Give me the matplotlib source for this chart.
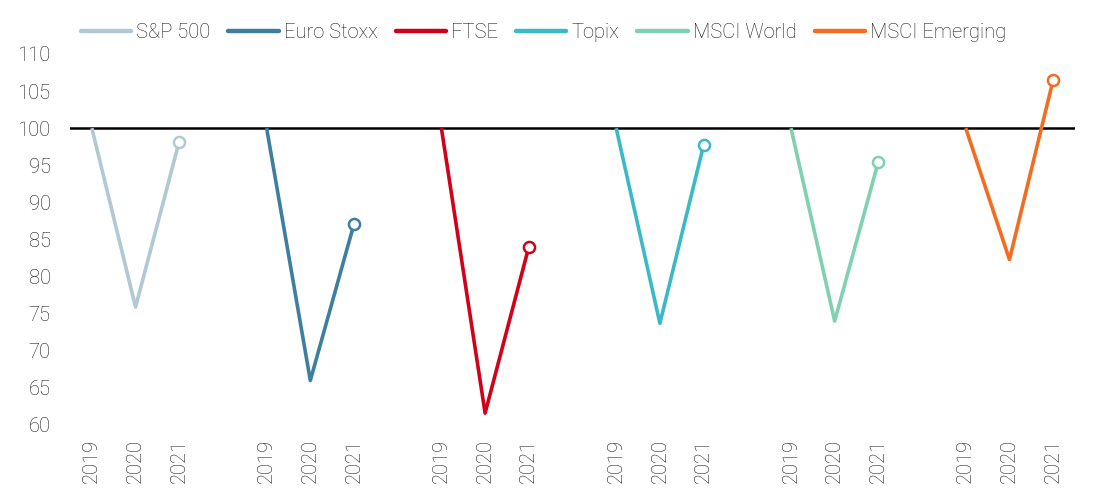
import matplotlib.pyplot as plt
from matplotlib.lines import Line2D

plt.rcParams['font.family'] = ['Roboto', 'DejaVu Sans']
plt.rcParams['font.weight'] = 'light'

years = ['2019', '2020', '2021']
indices = ['S&P 500', 'Euro Stoxx', 'FTSE', 'Topix', 'MSCI World', 'MSCI Emerging']
colors = ['#b1c9d3', '#3e7fa0', '#d0021b', '#3cb9c9', '#80d1b2', '#f26d22']

sp500 = [100, 75.9, 98.2]
eurostoxx = [100, 66.0, 87.1]
ftse = [100, 61.6, 84.0]
topix = [100, 73.7, 97.7]
msci_world = [100, 74.0, 95.5]
msci_em = [100, 82.3, 106.5]
series = [sp500, eurostoxx, ftse, topix, msci_world, msci_em]

fig = plt.figure(figsize=(11, 5.01), dpi=100)
ax = fig.add_axes([70/1100, 1-425/501, 1005/1100, 371/501])

ticks = []
labels = []
handles = []
for g, (vals, col, name) in enumerate(zip(series, colors, indices)):
    xs = [g*4 + j for j in range(len(vals))]
    ax.plot(xs, vals, color=col, linewidth=2.6, solid_capstyle='butt', zorder=3)
    ax.plot(xs[-1], vals[-1], marker='o', markersize=8, markerfacecolor='white',
            markeredgecolor=col, markeredgewidth=1.8, zorder=4)
    ticks += xs
    labels += years
    handles.append(Line2D([0], [0], color=col, linewidth=3.2, solid_capstyle='round', label=name))

ax.axhline(100, color='black', linewidth=1.8, zorder=2)
ax.set_xlim(-0.5, 22.5)
ax.set_ylim(60, 110)
ax.set_yticks(range(60, 111, 5))
ax.set_xticks(ticks)
ax.set_xticklabels(labels, rotation=90)
ax.tick_params(axis='both', length=0, labelsize=14.5, colors='#1a1a1a')
ax.tick_params(axis='y', pad=14)
ax.tick_params(axis='x', pad=10)
for s in ax.spines.values():
    s.set_visible(False)

leg = fig.legend(handles=handles, loc='center', bbox_to_anchor=(0.494, 0.936), ncol=6,
                 frameon=False, fontsize=14.5, handlelength=2.5, handletextpad=0.25,
                 columnspacing=0.9)
for t in leg.get_texts():
    t.set_color('#1a1a1a')

plt.savefig('out.png', dpi=100)
